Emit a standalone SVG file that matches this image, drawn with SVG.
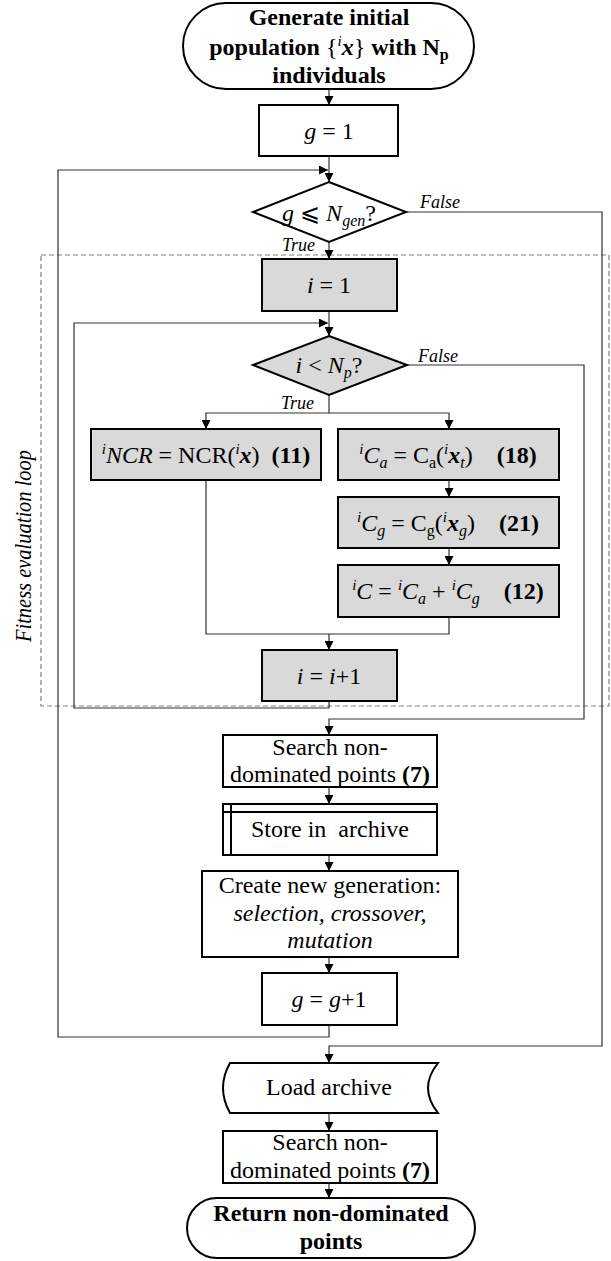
<svg xmlns="http://www.w3.org/2000/svg" width="611" height="1261" viewBox="0 0 611 1261">
<defs>
<style>
.t{font-family:"Liberation Serif","Times New Roman",serif;font-size:24px;fill:#000}
.b{font-weight:bold}
.i{font-style:italic}
.lbl{font-family:"Liberation Serif","Times New Roman",serif;font-size:18px;font-style:italic;fill:#000}
.box{fill:#fff;stroke:#000;stroke-width:2}
.gbox{fill:#d9d9d9;stroke:#000;stroke-width:2}
.c{fill:none;stroke:#333;stroke-width:1.2}
.dash{fill:none;stroke:#808080;stroke-width:1.2;stroke-dasharray:5 3}
</style>
<marker id="ar" viewBox="0 0 10 10" refX="10" refY="5" markerWidth="9" markerHeight="9" markerUnits="userSpaceOnUse" orient="auto">
<path d="M0,0 L10,5 L0,10 Z" fill="#000"/>
</marker>
</defs>
<rect width="611" height="1261" fill="#fff"/>

<g id="fitness-loop-frame">
<rect class="dash" x="41" y="255" width="568" height="451"/>
<text class="t i" font-size="19" transform="translate(31,546) rotate(-90)" text-anchor="middle" textLength="192" lengthAdjust="spacingAndGlyphs">Fitness evaluation loop</text>
</g>

<g id="connectors">
<path class="c" d="M329,89 V105" marker-end="url(#ar)"/>
<path class="c" d="M329,156 V182" marker-end="url(#ar)"/>
<path class="c" d="M329,1025 V1037 H58 V170 H328" marker-end="url(#ar)"/>
<path class="c" d="M406,212 H602 V1046 H329 V1063" marker-end="url(#ar)"/>
<path class="c" d="M329,242 V259" marker-end="url(#ar)"/>
<path class="c" d="M329,311 V336" marker-end="url(#ar)"/>
<path class="c" d="M329,701 V708 H74 V323 H328" marker-end="url(#ar)"/>
<path class="c" d="M407,365 H584 V719 H329 V735" marker-end="url(#ar)"/>
<path class="c" d="M329,395 V413 H206 V429" marker-end="url(#ar)"/>
<path class="c" d="M329,413 H449 V429" marker-end="url(#ar)"/>
<path class="c" d="M449,480 V497" marker-end="url(#ar)"/>
<path class="c" d="M449,548 V565" marker-end="url(#ar)"/>
<path class="c" d="M206,480 V634 H449 V617"/>
<path class="c" d="M329,634 V650" marker-end="url(#ar)"/>
<path class="c" d="M329,787 V804" marker-end="url(#ar)"/>
<path class="c" d="M329,855 V871" marker-end="url(#ar)"/>
<path class="c" d="M329,957 V973" marker-end="url(#ar)"/>
<path class="c" d="M329,1113 V1131" marker-end="url(#ar)"/>
<path class="c" d="M329,1183 V1198" marker-end="url(#ar)"/>
<text class="lbl" x="420" y="208">False</text>
<text class="lbl" x="282" y="251">True</text>
<text class="lbl" x="418" y="362">False</text>
<text class="lbl" x="281" y="409">True</text>
</g>

<g id="start">
<rect class="box" x="183" y="3" width="291" height="86" rx="43"/>
<text class="t b" x="329" y="25" text-anchor="middle">Generate initial</text>
<text class="t b" x="329" y="55" text-anchor="middle">population <tspan font-weight="normal">{</tspan><tspan font-weight="normal" font-style="italic" font-size="15" dy="-9">i</tspan><tspan font-style="italic" dy="9">x</tspan><tspan font-weight="normal">}</tspan> with N<tspan font-size="16" dy="5">p</tspan></text>
<text class="t b" x="329" y="83" text-anchor="middle">individuals</text>
</g>

<g id="g-init">
<rect class="box" x="259" y="105" width="139" height="51"/>
<text class="t" x="329" y="139" text-anchor="middle"><tspan class="i">g</tspan> = 1</text>
</g>

<g id="g-check">
<polygon class="box" points="329,182 406,212 329,242 253,212"/>
<text class="t" x="329" y="221" text-anchor="middle"><tspan class="i">g</tspan> ⩽ <tspan class="i">N</tspan><tspan class="i" font-size="16" dy="5">gen</tspan><tspan dy="-5">?</tspan></text>
</g>

<g id="i-init">
<rect class="gbox" x="262" y="259" width="135" height="52"/>
<text class="t" x="329" y="293" text-anchor="middle"><tspan class="i">i</tspan> = 1</text>
</g>

<g id="i-check">
<polygon class="gbox" points="329,336 407,365 329,395 253,365"/>
<text class="t" x="329" y="373" text-anchor="middle"><tspan class="i">i</tspan> &lt; <tspan class="i">N</tspan><tspan class="i" font-size="16" dy="5">p</tspan><tspan dy="-5">?</tspan></text>
</g>

<g id="ncr">
<rect class="gbox" x="91" y="429" width="230" height="51"/>
<text class="t" x="206" y="463" text-anchor="middle" xml:space="preserve"><tspan class="i" font-size="15" dy="-9">i</tspan><tspan class="i" dy="9">NCR</tspan> = NCR(<tspan class="i" font-size="15" dy="-9">i</tspan><tspan class="b i" dy="9">x</tspan>)  <tspan class="b">(11)</tspan></text>
</g>

<g id="ca">
<rect class="gbox" x="338" y="429" width="221" height="51"/>
<text class="t" x="448" y="463" text-anchor="middle" xml:space="preserve"><tspan class="i" font-size="15" dy="-9">i</tspan><tspan class="i" dy="9">C</tspan><tspan class="i" font-size="16" dy="5">a</tspan><tspan dy="-5"> = C</tspan><tspan font-size="16" dy="5">a</tspan><tspan dy="-5">(</tspan><tspan class="i" font-size="15" dy="-9">i</tspan><tspan class="b i" dy="9">x</tspan><tspan class="i" font-size="16" dy="5">t</tspan><tspan dy="-5">)    </tspan><tspan class="b">(18)</tspan></text>
</g>

<g id="cg">
<rect class="gbox" x="338" y="497" width="221" height="51"/>
<text class="t" x="448" y="531" text-anchor="middle" xml:space="preserve"><tspan class="i" font-size="15" dy="-9">i</tspan><tspan class="i" dy="9">C</tspan><tspan class="i" font-size="16" dy="5">g</tspan><tspan dy="-5"> = C</tspan><tspan font-size="16" dy="5">g</tspan><tspan dy="-5">(</tspan><tspan class="i" font-size="15" dy="-9">i</tspan><tspan class="b i" dy="9">x</tspan><tspan class="i" font-size="16" dy="5">g</tspan><tspan dy="-5">)    </tspan><tspan class="b">(21)</tspan></text>
</g>

<g id="c-total">
<rect class="gbox" x="338" y="565" width="221" height="52"/>
<text class="t" x="448" y="599" text-anchor="middle" xml:space="preserve"><tspan class="i" font-size="15" dy="-9">i</tspan><tspan class="i" dy="9">C</tspan> = <tspan class="i" font-size="15" dy="-9">i</tspan><tspan class="i" dy="9">C</tspan><tspan class="i" font-size="16" dy="5">a</tspan><tspan dy="-5"> + </tspan><tspan class="i" font-size="15" dy="-9">i</tspan><tspan class="i" dy="9">C</tspan><tspan class="i" font-size="16" dy="5">g</tspan><tspan dy="-5">    </tspan><tspan class="b">(12)</tspan></text>
</g>

<g id="i-inc">
<rect class="gbox" x="262" y="650" width="135" height="51"/>
<text class="t" x="329" y="684" text-anchor="middle"><tspan class="i">i</tspan> = <tspan class="i">i</tspan>+1</text>
</g>

<g id="search1">
<rect class="box" x="223" y="735" width="214" height="52"/>
<text class="t" x="330" y="755" text-anchor="middle">Search non-</text>
<text class="t" x="330" y="782" text-anchor="middle">dominated points <tspan class="b">(7)</tspan></text>
</g>

<g id="store">
<rect class="box" x="223" y="804" width="214" height="51"/>
<path d="M223,812 H437 M231,804 V855" fill="none" stroke="#000" stroke-width="2"/>
<text class="t" x="330" y="837" text-anchor="middle" xml:space="preserve">Store in  archive</text>
</g>

<g id="new-gen">
<rect class="box" x="202" y="871" width="256" height="86"/>
<text class="t" x="330" y="893" text-anchor="middle">Create new generation:</text>
<text class="t i" x="330" y="921" text-anchor="middle">selection, crossover,</text>
<text class="t i" x="330" y="948" text-anchor="middle">mutation</text>
</g>

<g id="g-inc">
<rect class="box" x="262" y="973" width="135" height="52"/>
<text class="t" x="329" y="1007" text-anchor="middle"><tspan class="i">g</tspan> = <tspan class="i">g</tspan>+1</text>
</g>

<g id="load">
<path class="box" d="M230,1063 L438,1063 Q418,1088 438,1113 L230,1113 Q216,1088 230,1063 Z"/>
<text class="t" x="329" y="1095" text-anchor="middle">Load archive</text>
</g>

<g id="search2">
<rect class="box" x="223" y="1131" width="214" height="52"/>
<text class="t" x="330" y="1150" text-anchor="middle">Search non-</text>
<text class="t" x="330" y="1178" text-anchor="middle">dominated points <tspan class="b">(7)</tspan></text>
</g>

<g id="end">
<rect class="box" x="187" y="1198" width="288" height="60" rx="30"/>
<text class="t b" x="331" y="1221" text-anchor="middle">Return non-dominated</text>
<text class="t b" x="331" y="1249" text-anchor="middle">points</text>
</g>
</svg>
